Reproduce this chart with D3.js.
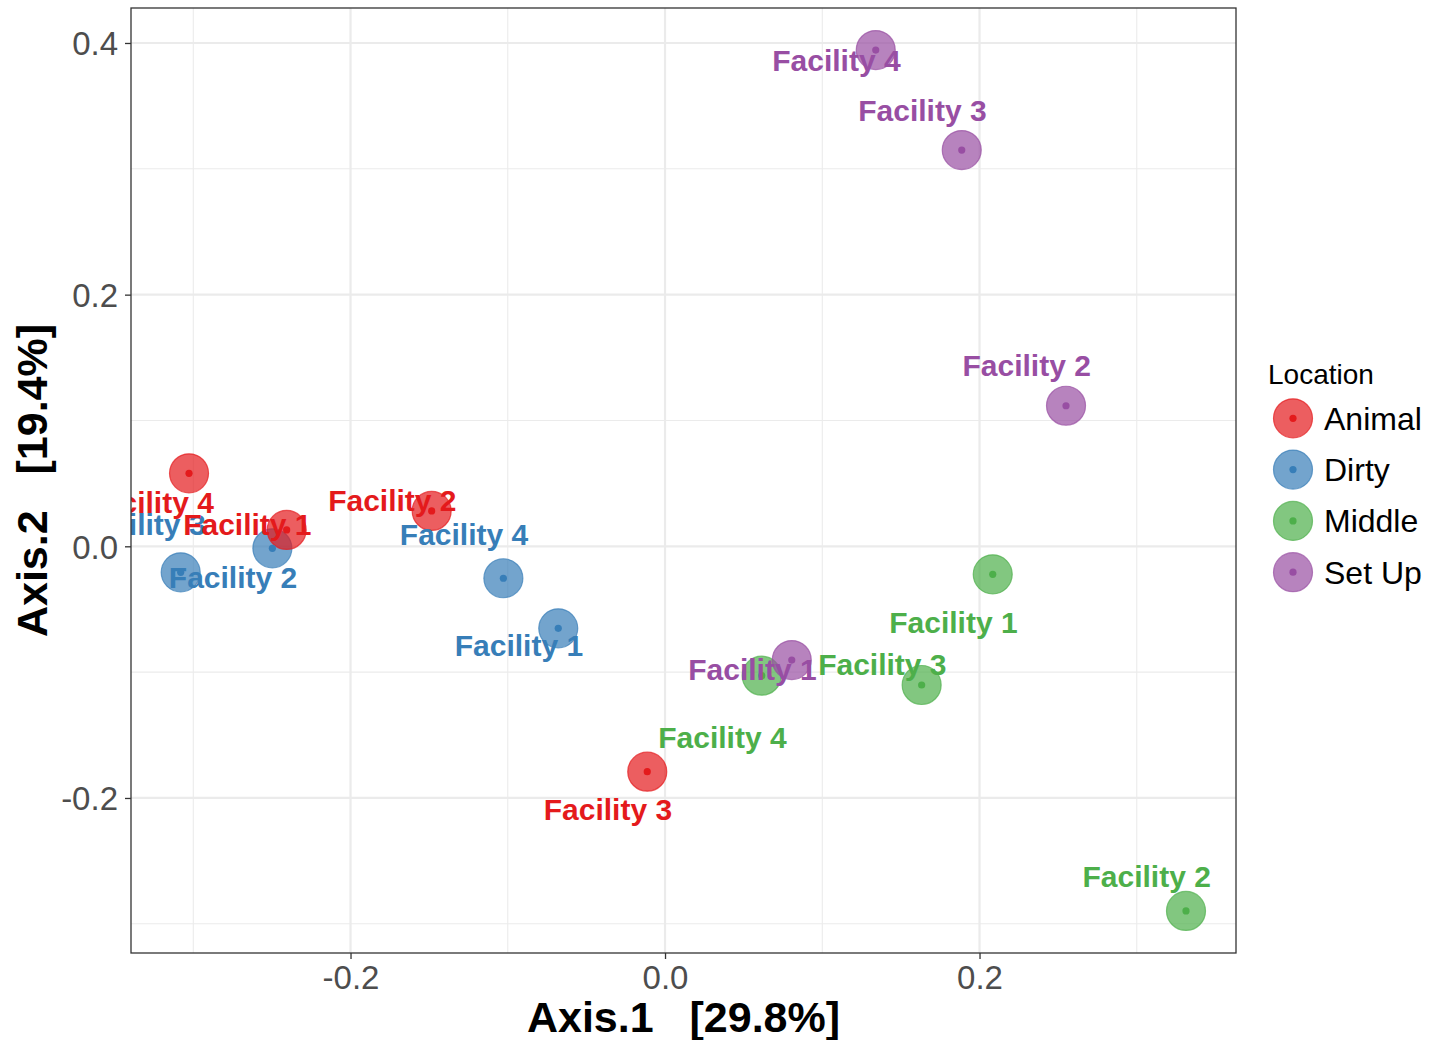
<!DOCTYPE html>
<html>
<head>
<meta charset="utf-8">
<script src="https://cdn.jsdelivr.net/npm/d3@7"></script>
<style>
  html, body { margin: 0; padding: 0; background: #fff; }
  svg { display: block; font-family: "Liberation Sans", Arial, Helvetica, sans-serif; }
</style>
</head>
<body>
<svg id="chart" width="1442" height="1040"></svg>
<script>
// PCoA ordination of samples by location and facility
const locations = ["Animal", "Dirty", "Middle", "Set Up"];
const locationColors = ["#E41A1C", "#377EB8", "#4DAF4A", "#984EA3"];
const facilities = ["Facility 1", "Facility 2", "Facility 3", "Facility 4"];

// Ordination scores (Axis.1, Axis.2), one entry per facility
const animalAxis1 = [-0.2406, -0.1484, -0.0113, -0.3027];
const animalAxis2 = [0.0130, 0.0281, -0.1791, 0.0580];
const dirtyAxis1  = [-0.0679, -0.2497, -0.3080, -0.1028];
const dirtyAxis2  = [-0.0652, -0.0016, -0.0207, -0.0254];
const middleAxis1 = [0.2084, 0.3313, 0.1632, 0.0615];
const middleAxis2 = [-0.0223, -0.2898, -0.1102, -0.1028];
const setupAxis1  = [0.0806, 0.2550, 0.1887, 0.1340];
const setupAxis2  = [-0.0904, 0.1117, 0.3149, 0.3944];

// Jittered label heights (Axis.2 units)
const animalLabel2 = [0.0177, 0.0368, -0.2086, 0.0352];
const dirtyLabel2  = [-0.0787, -0.0244, 0.0177, 0.0099];
const middleLabel2 = [-0.0602, -0.2620, -0.0933, -0.1520];
const setupLabel2  = [-0.0975, 0.1437, 0.3465, 0.3865];
const labelNudgeX = -0.025;

const xMajor = [-0.2, 0.0, 0.2];
const xMinor = [-0.3, -0.1, 0.1, 0.3];
const yMajor = [-0.2, 0.0, 0.2, 0.4];
const yMinor = [-0.3, -0.1, 0.1, 0.3];
const xTitle = "Axis.1   [29.8%]";
const yTitle = "Axis.2   [19.4%]";
const legendTitle = "Location";

const xs = [animalAxis1, dirtyAxis1, middleAxis1, setupAxis1];
const ys = [animalAxis2, dirtyAxis2, middleAxis2, setupAxis2];
const ls = [animalLabel2, dirtyLabel2, middleLabel2, setupLabel2];
const samples = [];
locations.forEach((loc, li) => {
  facilities.forEach((fac, fi) => {
    samples.push({ loc, li, fac, x: xs[li][fi], y: ys[li][fi], ly: ls[li][fi] });
  });
});
// layering order of groups on the panel
const drawOrder = [1, 0, 2, 3];
samples.sort((a, b) => drawOrder.indexOf(a.li) - drawOrder.indexOf(b.li));

const panel = { left: 131, right: 1236, top: 8, bottom: 953 };
const x = d3.scaleLinear().domain([-0.3396, 0.3631]).range([panel.left, panel.right]);
const y = d3.scaleLinear().domain([-0.3232, 0.4278]).range([panel.bottom, panel.top]);
const color = d3.scaleOrdinal().domain(locations).range(locationColors);
const fmt = d => d.toFixed(1);

const svg = d3.select("#chart");

svg.append("defs").append("clipPath").attr("id", "panel-clip")
  .append("rect")
  .attr("x", panel.left).attr("y", panel.top)
  .attr("width", panel.right - panel.left).attr("height", panel.bottom - panel.top);

// grid
const grid = svg.append("g");
grid.selectAll(".vminor").data(xMinor).join("line")
  .attr("x1", d => x(d)).attr("x2", d => x(d))
  .attr("y1", panel.top).attr("y2", panel.bottom)
  .attr("stroke", "#EBEBEB").attr("stroke-width", 1.1);
grid.selectAll(".hminor").data(yMinor).join("line")
  .attr("y1", d => y(d)).attr("y2", d => y(d))
  .attr("x1", panel.left).attr("x2", panel.right)
  .attr("stroke", "#EBEBEB").attr("stroke-width", 1.1);
grid.selectAll(".vmajor").data(xMajor).join("line")
  .attr("x1", d => x(d)).attr("x2", d => x(d))
  .attr("y1", panel.top).attr("y2", panel.bottom)
  .attr("stroke", "#EBEBEB").attr("stroke-width", 2.2);
grid.selectAll(".hmajor").data(yMajor).join("line")
  .attr("y1", d => y(d)).attr("y2", d => y(d))
  .attr("x1", panel.left).attr("x2", panel.right)
  .attr("stroke", "#EBEBEB").attr("stroke-width", 2.2);

// points and labels, clipped to the panel
const plot = svg.append("g").attr("clip-path", "url(#panel-clip)");
plot.selectAll("circle.big").data(samples).join("circle")
  .attr("class", "big")
  .attr("cx", d => x(d.x)).attr("cy", d => y(d.y)).attr("r", 19.5)
  .attr("fill", d => color(d.loc)).attr("fill-opacity", 0.7)
  .attr("stroke", d => color(d.loc)).attr("stroke-opacity", 0.7).attr("stroke-width", 1.2);
plot.selectAll("circle.dot").data(samples).join("circle")
  .attr("class", "dot")
  .attr("cx", d => x(d.x)).attr("cy", d => y(d.y)).attr("r", 3.6)
  .attr("fill", d => color(d.loc));
plot.selectAll("text.lab").data(samples).join("text")
  .attr("class", "lab")
  .attr("x", d => x(d.x + labelNudgeX)).attr("y", d => y(d.ly))
  .attr("dy", "0.36em")
  .attr("text-anchor", "middle")
  .attr("font-size", 30).attr("font-weight", "bold")
  .attr("fill", d => color(d.loc))
  .text(d => d.fac);

// panel border
svg.append("rect")
  .attr("x", panel.left).attr("y", panel.top)
  .attr("width", panel.right - panel.left).attr("height", panel.bottom - panel.top)
  .attr("fill", "none").attr("stroke", "#333333").attr("stroke-width", 1.3);

// axes
const xAxis = svg.append("g").attr("transform", `translate(0,${panel.bottom})`)
  .call(d3.axisBottom(x).tickValues(xMajor).tickFormat(fmt).tickSize(6).tickPadding(7));
const yAxis = svg.append("g").attr("transform", `translate(${panel.left},0)`)
  .call(d3.axisLeft(y).tickValues(yMajor).tickFormat(fmt).tickSize(6).tickPadding(7));
[xAxis, yAxis].forEach(a => {
  a.select(".domain").remove();
  a.selectAll(".tick line").attr("stroke", "#333333").attr("stroke-width", 1.3);
  a.selectAll(".tick text").attr("fill", "#4D4D4D").attr("font-size", 33)
    .attr("font-family", "Liberation Sans, Arial, Helvetica, sans-serif");
});
yAxis.selectAll(".tick text").attr("dy", "0.36em");

// axis titles
svg.append("text")
  .attr("x", (panel.left + panel.right) / 2).attr("y", 1032)
  .attr("text-anchor", "middle").attr("font-size", 43).attr("font-weight", "bold")
  .style("white-space", "pre").attr("fill", "#000")
  .text(xTitle);
svg.append("text")
  .attr("transform", `translate(47,${(panel.top + panel.bottom) / 2}) rotate(-90)`)
  .attr("text-anchor", "middle").attr("font-size", 43).attr("font-weight", "bold")
  .style("white-space", "pre").attr("fill", "#000")
  .text(yTitle);

// legend
const legend = svg.append("g");
legend.append("text").attr("x", 1268).attr("y", 384)
  .attr("font-size", 28).attr("fill", "#000").text(legendTitle);
const items = legend.selectAll("g.item").data(locations).join("g")
  .attr("class", "item")
  .attr("transform", (d, i) => `translate(1293,${418.3 + i * 51.3})`);
items.append("circle").attr("r", 19.5)
  .attr("fill", d => color(d)).attr("fill-opacity", 0.7)
  .attr("stroke", d => color(d)).attr("stroke-opacity", 0.7).attr("stroke-width", 1.2);
items.append("circle").attr("r", 3.6).attr("fill", d => color(d));
items.append("text").attr("x", 31).attr("dy", "0.36em")
  .attr("font-size", 32).attr("fill", "#000").text(d => d);
</script>
</body>
</html>
